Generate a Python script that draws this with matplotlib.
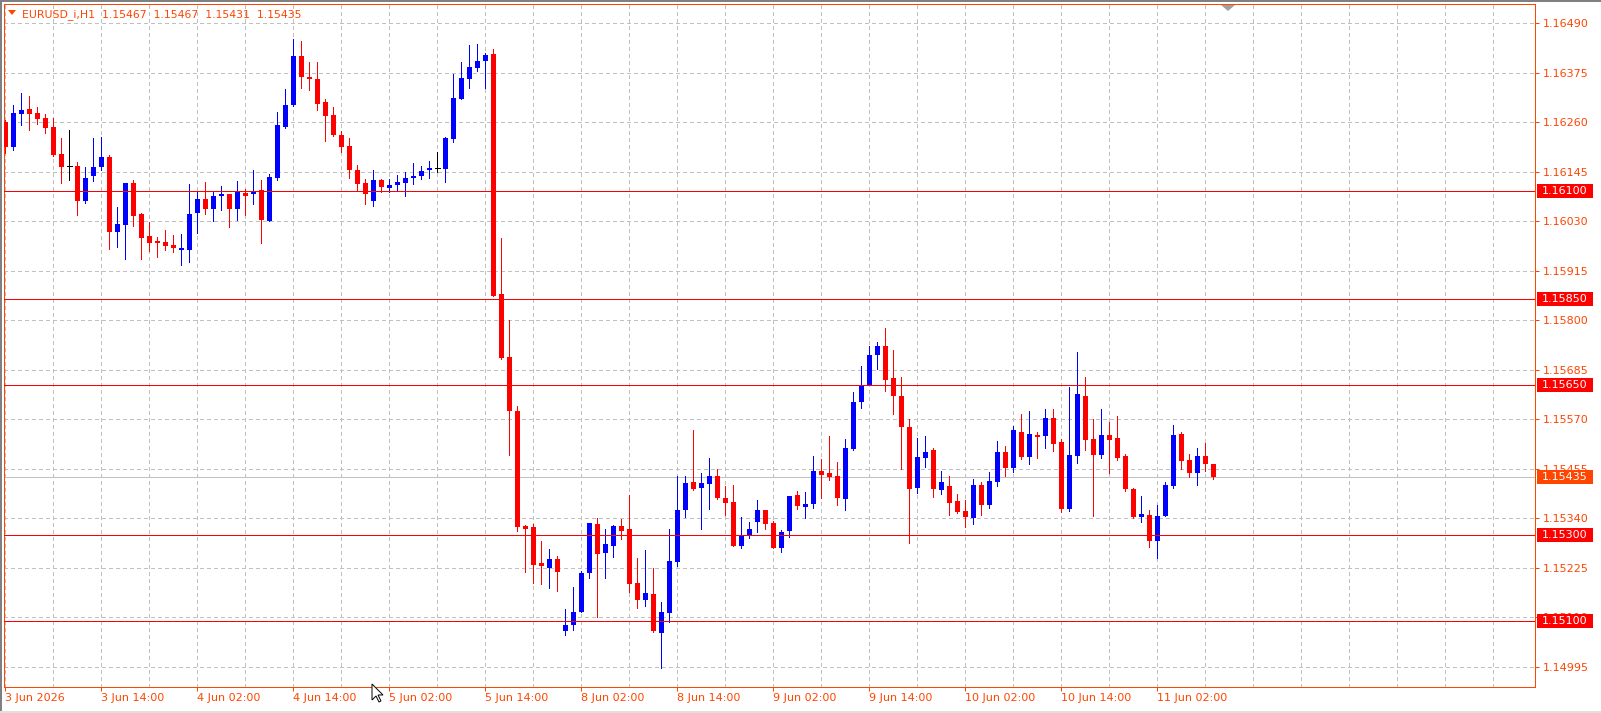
import matplotlib
matplotlib.use('Agg')
import numpy as np
from matplotlib import pyplot as plt
from matplotlib.patches import Rectangle, Polygon
from matplotlib.transforms import blended_transform_factory

# hourly EURUSD bars, 3 Jun 02:00 .. 11 Jun 07:00
opens = [1.16260, 1.16203, 1.16280, 1.16291, 1.16282, 1.16270, 1.16249, 1.16186, 1.16158, 1.16158,
         1.16076, 1.16134, 1.16155, 1.16179, 1.16004, 1.16022, 1.16119, 1.16048, 1.15996, 1.15985,
         1.15982, 1.15975, 1.15964, 1.15964, 1.16050, 1.16082, 1.16059, 1.16089, 1.16093, 1.16059,
         1.16096, 1.16093, 1.16103, 1.16031, 1.16131, 1.16249, 1.16299, 1.16414, 1.16365, 1.16361,
         1.16307, 1.16277, 1.16230, 1.16205, 1.16149, 1.16119, 1.16078, 1.16126, 1.16108, 1.16115,
         1.16120, 1.16131, 1.16134, 1.16148, 1.16154, 1.16152, 1.16222, 1.16313, 1.16361, 1.16387,
         1.16403, 1.16419, 1.15860, 1.15715, 1.15588, 1.15321, 1.15320, 1.15237, 1.15225, 1.15246,
         1.15078, 1.15091, 1.15122, 1.15213, 1.15327, 1.15258, 1.15276, 1.15322, 1.15314, 1.15190,
         1.15151, 1.15164, 1.15074, 1.15119, 1.15238, 1.15358, 1.15425, 1.15410, 1.15420, 1.15437,
         1.15388, 1.15378, 1.15275, 1.15298, 1.15331, 1.15358, 1.15329, 1.15271, 1.15311, 1.15394,
         1.15366, 1.15374, 1.15449, 1.15444, 1.15438, 1.15385, 1.15500, 1.15610, 1.15649, 1.15720,
         1.15739, 1.15665, 1.15625, 1.15553, 1.15411, 1.15480, 1.15498, 1.15406, 1.15414, 1.15380,
         1.15356, 1.15341, 1.15417, 1.15371, 1.15424, 1.15495, 1.15456, 1.15540, 1.15482, 1.15533,
         1.15531, 1.15574, 1.15516, 1.15361, 1.15485, 1.15625, 1.15523, 1.15487, 1.15533, 1.15526,
         1.15484, 1.15407, 1.15343, 1.15347, 1.15288, 1.15345, 1.15415, 1.15535, 1.15475, 1.15445,
         1.15484, 1.15467]
highs = [1.16265, 1.16300, 1.16328, 1.16321, 1.16295, 1.16279, 1.16269, 1.16223, 1.16242, 1.16168,
         1.16156, 1.16223, 1.16226, 1.16183, 1.16063, 1.16120, 1.16126, 1.16050, 1.16029, 1.15994,
         1.16010, 1.15998, 1.16000, 1.16117, 1.16100, 1.16121, 1.16098, 1.16112, 1.16093, 1.16124,
         1.16106, 1.16149, 1.16126, 1.16140, 1.16284, 1.16337, 1.16453, 1.16449, 1.16400, 1.16400,
         1.16314, 1.16295, 1.16240, 1.16223, 1.16161, 1.16128, 1.16149, 1.16129, 1.16129, 1.16137,
         1.16144, 1.16165, 1.16158, 1.16170, 1.16191, 1.16226, 1.16372, 1.16400, 1.16440, 1.16442,
         1.16421, 1.16430, 1.15991, 1.15801, 1.15600, 1.15324, 1.15326, 1.15286, 1.15269, 1.15252,
         1.15128, 1.15179, 1.15218, 1.15330, 1.15341, 1.15316, 1.15324, 1.15337, 1.15394, 1.15248,
         1.15265, 1.15225, 1.15146, 1.15316, 1.15437, 1.15437, 1.15546, 1.15445, 1.15481, 1.15455,
         1.15415, 1.15418, 1.15342, 1.15331, 1.15383, 1.15360, 1.15334, 1.15313, 1.15391, 1.15403,
         1.15400, 1.15485, 1.15477, 1.15531, 1.15471, 1.15523, 1.15633, 1.15693, 1.15741, 1.15749,
         1.15781, 1.15732, 1.15669, 1.15570, 1.15526, 1.15530, 1.15502, 1.15449, 1.15438, 1.15396,
         1.15382, 1.15431, 1.15424, 1.15447, 1.15519, 1.15507, 1.15554, 1.15581, 1.15588, 1.15540,
         1.15593, 1.15593, 1.15523, 1.15644, 1.15727, 1.15669, 1.15570, 1.15593, 1.15563, 1.15577,
         1.15489, 1.15410, 1.15391, 1.15359, 1.15370, 1.15424, 1.15556, 1.15540, 1.15489, 1.15502,
         1.15514, 1.15467]
lows = [1.16188, 1.16196, 1.16254, 1.16242, 1.16257, 1.16236, 1.16182, 1.16120, 1.16127, 1.16045,
        1.16073, 1.16124, 1.16149, 1.15966, 1.15971, 1.15943, 1.16020, 1.15943, 1.15962, 1.15947,
        1.15963, 1.15959, 1.15929, 1.15936, 1.16003, 1.16048, 1.16031, 1.16056, 1.16017, 1.16033,
        1.16045, 1.16071, 1.15980, 1.16030, 1.16127, 1.16247, 1.16298, 1.16340, 1.16335, 1.16289,
        1.16217, 1.16228, 1.16192, 1.16131, 1.16100, 1.16071, 1.16066, 1.16099, 1.16099, 1.16100,
        1.16089, 1.16117, 1.16129, 1.16131, 1.16144, 1.16122, 1.16213, 1.16313, 1.16340, 1.16380,
        1.16340, 1.15857, 1.15709, 1.15488, 1.15310, 1.15216, 1.15190, 1.15188, 1.15177, 1.15172,
        1.15068, 1.15080, 1.15122, 1.15200, 1.15110, 1.15202, 1.15251, 1.15291, 1.15169, 1.15131,
        1.15137, 1.15075, 1.14992, 1.15099, 1.15229, 1.15343, 1.15406, 1.15316, 1.15361, 1.15384,
        1.15348, 1.15275, 1.15271, 1.15295, 1.15307, 1.15315, 1.15270, 1.15262, 1.15296, 1.15361,
        1.15341, 1.15363, 1.15387, 1.15428, 1.15370, 1.15359, 1.15498, 1.15596, 1.15649, 1.15686,
        1.15635, 1.15581, 1.15455, 1.15283, 1.15399, 1.15458, 1.15390, 1.15397, 1.15347, 1.15353,
        1.15319, 1.15327, 1.15347, 1.15363, 1.15415, 1.15438, 1.15448, 1.15477, 1.15466, 1.15480,
        1.15503, 1.15496, 1.15355, 1.15357, 1.15468, 1.15498, 1.15345, 1.15480, 1.15444, 1.15475,
        1.15403, 1.15341, 1.15332, 1.15274, 1.15248, 1.15345, 1.15411, 1.15454, 1.15435, 1.15417,
        1.15450, 1.15431]
closes = [1.16202, 1.16282, 1.16289, 1.16280, 1.16268, 1.16247, 1.16184, 1.16157, 1.16158, 1.16076,
          1.16131, 1.16156, 1.16179, 1.16004, 1.16024, 1.16119, 1.16043, 1.15992, 1.15980, 1.15980,
          1.15973, 1.15969, 1.15968, 1.16047, 1.16082, 1.16059, 1.16089, 1.16094, 1.16059, 1.16099,
          1.16089, 1.16100, 1.16033, 1.16133, 1.16254, 1.16300, 1.16414, 1.16366, 1.16361, 1.16303,
          1.16275, 1.16230, 1.16203, 1.16148, 1.16117, 1.16094, 1.16126, 1.16110, 1.16114, 1.16121,
          1.16131, 1.16135, 1.16147, 1.16154, 1.16154, 1.16223, 1.16316, 1.16363, 1.16388, 1.16402,
          1.16416, 1.15857, 1.15712, 1.15588, 1.15319, 1.15315, 1.15232, 1.15228, 1.15246, 1.15216,
          1.15092, 1.15123, 1.15212, 1.15330, 1.15256, 1.15279, 1.15322, 1.15311, 1.15188, 1.15150,
          1.15167, 1.15077, 1.15121, 1.15240, 1.15360, 1.15422, 1.15409, 1.15422, 1.15437, 1.15387,
          1.15376, 1.15275, 1.15302, 1.15316, 1.15360, 1.15326, 1.15271, 1.15308, 1.15391, 1.15369,
          1.15373, 1.15449, 1.15441, 1.15436, 1.15387, 1.15502, 1.15611, 1.15649, 1.15720, 1.15739,
          1.15660, 1.15624, 1.15552, 1.15407, 1.15482, 1.15495, 1.15407, 1.15424, 1.15376, 1.15355,
          1.15343, 1.15417, 1.15370, 1.15426, 1.15495, 1.15456, 1.15544, 1.15482, 1.15535, 1.15529,
          1.15574, 1.15512, 1.15361, 1.15486, 1.15628, 1.15522, 1.15487, 1.15533, 1.15522, 1.15480,
          1.15407, 1.15343, 1.15349, 1.15288, 1.15345, 1.15417, 1.15533, 1.15473, 1.15445, 1.15484,
          1.15466, 1.15435]

time_labels = ['3 Jun 2026', '3 Jun 14:00', '4 Jun 02:00', '4 Jun 14:00', '5 Jun 02:00',
               '5 Jun 14:00', '8 Jun 02:00', '8 Jun 14:00', '9 Jun 02:00', '9 Jun 14:00',
               '10 Jun 02:00', '10 Jun 14:00', '11 Jun 02:00']
price_ticks = [1.14995, 1.15110, 1.15225, 1.15340, 1.15455, 1.15570, 1.15685,
               1.15800, 1.15915, 1.16030, 1.16145, 1.16260, 1.16375, 1.16490]
levels = [1.16100, 1.15850, 1.15650, 1.15300, 1.15100]
bid = 1.15435
title = 'EURUSD_i,H1  1.15467  1.15467  1.15431  1.15435'

W, H = 1601, 713
ORANGE = '#FF4500'
GRID = '#C0C0C0'
PX = 0.72  # one pixel in points

plt.rcParams['lines.scale_dashes'] = False
plt.rcParams['font.family'] = 'DejaVu Sans'

fig = plt.figure(figsize=(W / 100, H / 100), dpi=100)
ax = fig.add_axes([4 / W, 1 - 687 / H, 1531 / W, 683 / H])
ax.set_xlim(-0.1875, 191.19)
ax.set_ylim(1.149478, 1.165348)


def fx(px):
    return px / W


def fy(py):
    return 1 - py / H


# grid
for p in price_ticks:
    ax.axhline(p, color=GRID, lw=PX, ls=(0, (2.2, 2.2)), zorder=0.5, antialiased=False)
for i in range(0, 192, 6):
    ax.axvline(i - 0.05, color=GRID, lw=PX, ls=(0, (2.2, 2.2)), zorder=0.5, antialiased=False)

# candles
o = np.array(opens)
h = np.array(highs)
l = np.array(lows)
c = np.array(closes)
idx = np.arange(len(o))
colors = np.where(c > o, '#0000FF', np.where(c < o, '#FF0000', '#000000'))

ax.vlines(idx, l, h, colors=colors, lw=PX, zorder=2, antialiased=False)
body = np.abs(c - o)
bottom = np.minimum(o, c)
ax.bar(idx, body, 0.625, bottom=bottom, color=colors, linewidth=0, zorder=3, antialiased=False)
doji = body == 0
ax.hlines(o[doji], idx[doji] - 0.3125, idx[doji] + 0.3125, colors='#000000', lw=PX, zorder=3,
          antialiased=False)

# horizontal levels and bid line
for lv in levels:
    ax.axhline(lv, color='#FF0000', lw=PX, zorder=4, antialiased=False)
ax.axhline(bid, color=GRID, lw=PX, zorder=1.8, antialiased=False)

# axes styling
for s in ax.spines.values():
    s.set_color(ORANGE)
    s.set_linewidth(PX)
    s.set_antialiased(False)
ax.yaxis.tick_right()
ax.set_yticks(price_ticks)
ax.set_yticklabels(['%.5f' % p for p in price_ticks])
ax.set_xticks(np.arange(0, 12 * len(time_labels), 12))
ax.set_xticklabels(time_labels)
for lab in ax.get_xticklabels():
    lab.set_horizontalalignment('left')
ax.tick_params(axis='y', colors=ORANGE, labelcolor=ORANGE, labelsize=8, length=3, width=PX, pad=2.5)
ax.tick_params(axis='x', colors=ORANGE, labelcolor=ORANGE, labelsize=8, length=3, width=PX, pad=1.5)

# price boxes on the right scale
tr = blended_transform_factory(fig.transFigure, ax.transData)
per_px = (ax.get_ylim()[1] - ax.get_ylim()[0]) / 683
for lv, fc in [(x, '#FF0000') for x in levels] + [(bid, ORANGE)]:
    ax.add_patch(Rectangle((fx(1537), lv - 7 * per_px), fx(56), 14 * per_px, transform=tr,
                           facecolor=fc, edgecolor='none', clip_on=False, zorder=6))
    ax.text(fx(1542), lv, '%.5f' % lv, transform=tr, color='white', fontsize=8,
            va='center', ha='left', clip_on=False, zorder=7)

# title with the small triangle
fig.text(fx(22), fy(14.5), title, color=ORANGE, fontsize=7.8, va='center', ha='left')
fig.patches.append(Polygon([(fx(8), fy(10)), (fx(16), fy(10)), (fx(12), fy(15))], closed=True,
                           facecolor=ORANGE, edgecolor='none', transform=fig.transFigure))

# chart shift marker
fig.patches.append(Polygon([(fx(1221), fy(5)), (fx(1235), fy(5)), (fx(1228), fy(11))], closed=True,
                           facecolor='#A0A0A0', edgecolor='none', transform=fig.transFigure))

# window borders
fig.patches.append(Rectangle((0, fy(2)), 1, 2 / H, facecolor='#808080', edgecolor='none',
                             transform=fig.transFigure))
fig.patches.append(Rectangle((0, 0), 2 / W, 1, facecolor='#808080', edgecolor='none',
                             transform=fig.transFigure))
fig.patches.append(Rectangle((0, 0), 1, 2 / H, facecolor='#E0E0E0', edgecolor='none',
                             transform=fig.transFigure))

# mouse pointer
tip = (372, 684)
arrow = [(0, 0), (0, 16), (4, 12), (7, 18), (9, 17), (6, 11), (11, 11)]
fig.patches.append(Polygon([(fx(tip[0] + a), fy(tip[1] + b)) for a, b in arrow], closed=True,
                           facecolor='white', edgecolor='black', lw=0.7, transform=fig.transFigure,
                           zorder=10))

plt.savefig('out.png', dpi=100)
